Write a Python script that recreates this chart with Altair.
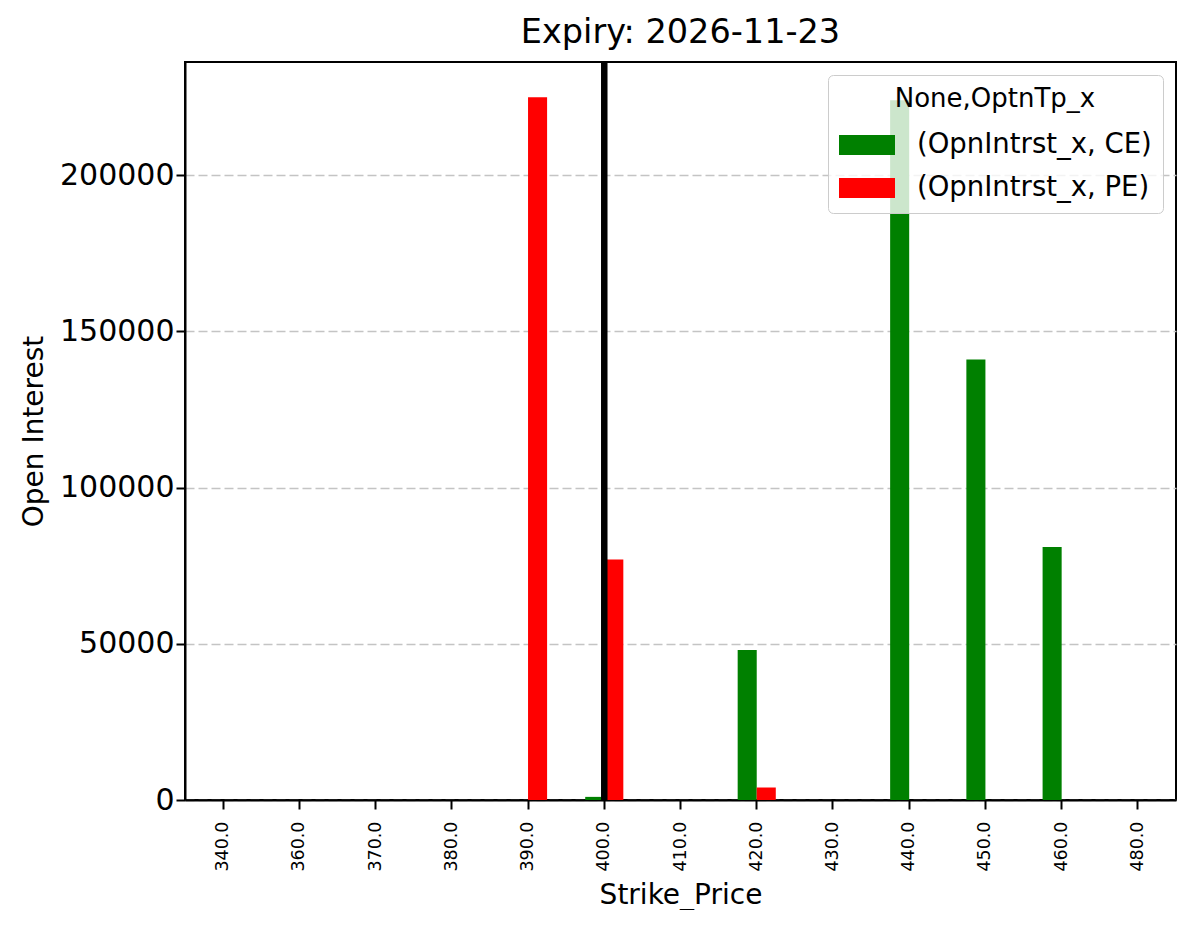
"""Open interest by strike price, grouped bars for CE and PE."""

import pandas as pd
import altair as alt

strikes = ["340.0", "360.0", "370.0", "380.0", "390.0", "400.0", "410.0",
           "420.0", "430.0", "440.0", "450.0", "460.0", "480.0"]
ce_oi = [0, 0, 0, 0, 0, 1000, 0, 48000, 0, 224000, 141000, 81000, 0]
pe_oi = [0, 0, 0, 0, 225000, 77000, 0, 4000, 0, 0, 0, 0, 0]
series = ["(OpnIntrst_x, CE)", "(OpnIntrst_x, PE)"]
colors = ["#008000", "#ff0000"]
spot_strike = ["400.0"]
y_ticks = [0, 50000, 100000, 150000, 200000]

FONT = "DejaVu Sans"

df = pd.DataFrame({
    "Strike_Price": strikes * 2,
    "series": [series[0]] * len(strikes) + [series[1]] * len(strikes),
    "oi": ce_oi + pe_oi,
})

x_scale = alt.Scale(domain=strikes, paddingInner=0.5, paddingOuter=0.25)

bars = alt.Chart(df).mark_bar().encode(
    x=alt.X("Strike_Price:N", sort=strikes, scale=x_scale,
            axis=alt.Axis(title="Strike_Price", labelAngle=270,
                          labelFontSize=17.5, labelPadding=12,
                          labelBaseline="middle", labelAlign="right",
                          titleFontSize=28, titlePadding=10)),
    xOffset=alt.XOffset("series:N", scale=alt.Scale(paddingInner=0,
                                                    paddingOuter=0)),
    y=alt.Y("oi:Q", scale=alt.Scale(domain=[0, 236250], nice=False),
            axis=alt.Axis(title="Open Interest", values=y_ticks,
                          format="d", labelFontSize=30, titleFontSize=28,
                          titlePadding=11, grid=True, gridDash=[9, 4],
                          gridColor="#c4c4c4", gridWidth=1.5)),
    color=alt.Color("series:N", scale=alt.Scale(domain=series, range=colors),
                    legend=alt.Legend(
                        title="None,OptnTp_x", orient="top-right", offset=13,
                        titleAnchor="middle", titleFontSize=26,
                        titleFontWeight="normal", labelFontSize=27.5,
                        titleLimit=1000, labelLimit=1000,
                        symbolType="M-1,-0.357L1,-0.357L1,0.357L-1,0.357Z",
                        symbolSize=3136, symbolStrokeWidth=0,
                        symbolOpacity=1, labelOffset=22, rowPadding=1,
                        padding=11, fillColor="rgba(255,255,255,0.8)",
                        strokeColor="#cccccc", cornerRadius=5)),
)

spot_line = alt.Chart(pd.DataFrame({"Strike_Price": spot_strike})).mark_rule(
    color="black", strokeWidth=6.5
).encode(
    x=alt.X("Strike_Price:N", sort=strikes, scale=x_scale)
)

chart = (bars + spot_line).properties(
    width=991,
    height=738,
    title=alt.TitleParams("Expiry: 2026-11-23", fontSize=33.5,
                          fontWeight="normal", offset=8),
    autosize=alt.AutoSizeParams(type="none"),
    padding={"left": 177, "top": 54, "right": 8, "bottom": 110},
).configure(
    font=FONT
).configure_axis(
    domainColor="black", domainWidth=2, tickColor="black", tickWidth=2,
    tickSize=9, labelColor="black", titleColor="black",
    titleFontWeight="normal", labelFont=FONT, titleFont=FONT
).configure_axisX(
    grid=False
).configure_view(
    stroke="black", strokeWidth=2
).configure_legend(
    labelFont=FONT, titleFont=FONT, labelColor="black", titleColor="black"
).configure_title(
    font=FONT, color="black"
)

chart.save("out.html", embed_options={"renderer": "svg", "actions": False})
